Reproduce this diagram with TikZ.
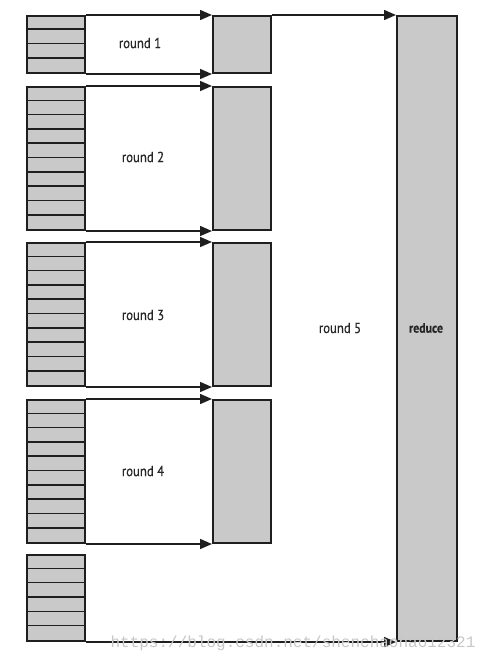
\documentclass[tikz,border=0pt]{standalone}
\usepackage{fontspec}
\setmainfont{PT Sans}
\newfontfamily\labfont[FakeStretch=0.88,FakeBold=0.4]{PT Sans}
\newfontfamily\wmfont{Liberation Mono}
\usetikzlibrary{arrows.meta}
\begin{document}
\begin{tikzpicture}[x=1pt,y=-1pt,
  box/.style={draw=black!88, line width=2pt, fill=gray!42, inner sep=0pt, anchor=north west, minimum width=58pt},
  strip/.style={draw=black!88, line width=1.6pt},
  flow/.style={draw=black!88, line width=1.5pt, -{Triangle[length=12pt,width=10pt]}},
  lab/.style={font=\labfont\fontsize{14.5}{16}\selectfont, text=black!85, inner sep=0pt},
  wm/.style={font=\wmfont\fontsize{16}{18}\selectfont, text=black!22, inner sep=0pt}]
\useasboundingbox (0,0) rectangle (495,664);
% input stacks
\node[box, minimum height=57pt]  (s1) at (26,15)  {};
\node[box, minimum height=143pt] (s2) at (26,86)  {};
\node[box, minimum height=143pt] (s3) at (26,242) {};
\node[box, minimum height=143pt] (s4) at (26,399) {};
\node[box, minimum height=86pt]  (s5) at (26,554) {};
\foreach \t/\h/\n in {15/57/4, 86/143/10, 242/143/10, 399/143/10, 554/86/6}{
  \pgfmathtruncatemacro\m{\n-1}
  \foreach \k in {1,...,\m}{
    \draw[strip] (26,{\t+\k*\h/\n}) -- (84,{\t+\k*\h/\n});
  }
}
% intermediate results
\node[box, minimum height=57pt]  (m1) at (212,15)  {};
\node[box, minimum height=143pt] (m2) at (212,86)  {};
\node[box, minimum height=143pt] (m3) at (212,242) {};
\node[box, minimum height=143pt] (m4) at (212,399) {};
% reduce
\node[box, minimum width=60pt, minimum height=625pt] (r) at (396,15) {};
% arrows
\foreach \i in {1,2,3,4}{
  \draw[flow] (s\i.north east) -- (m\i.north west);
  \draw[flow] (s\i.south east) -- (m\i.south west);
}
\draw[flow] (m1.north east) -- (r.north west);
\draw[flow] (s5.south east) -- (r.south west);
% labels
\node[lab] (l1) at (140,43)  {round 1};
\node[lab] (l2) at (143,157) {round 2};
\node[lab] (l3) at (143,315) {round 3};
\node[lab] (l4) at (143,471) {round 4};
\node[lab] (l5) at (340,328) {round 5};
\node[lab, font=\labfont\bfseries\fontsize{13.5}{15}\selectfont] (lr) at (426,328) {reduce};
\node[wm] (w) at (293,643) {https://blog.csdn.net/shenchaohao12321};
\end{tikzpicture}
\end{document}
